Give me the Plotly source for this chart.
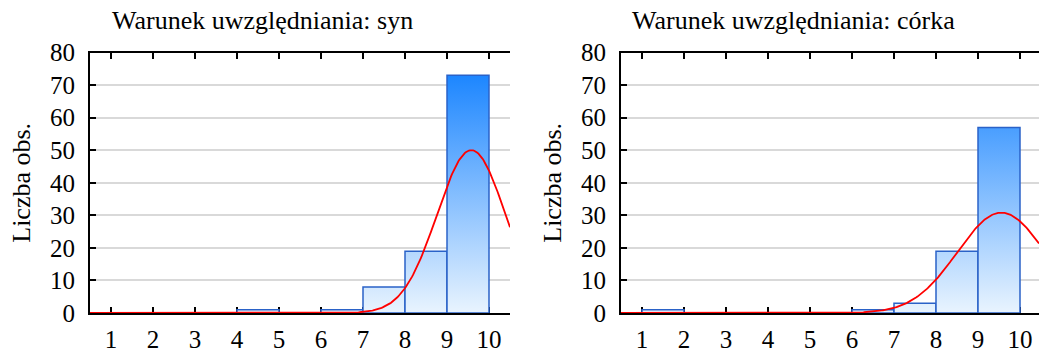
import math
import numpy as np
import plotly.graph_objects as go

# Histogram data: rating values 1..10 and observation counts for each group
values = [1, 2, 3, 4, 5, 6, 7, 8, 9, 10]
counts_syn = [0, 0, 0, 0, 1, 0, 1, 8, 19, 73]
counts_corka = [0, 1, 0, 0, 0, 0, 1, 3, 19, 57]
titles = ["Warunek uwzględniania: syn", "Warunek uwzględniania: córka"]
y_title = "Liczba obs."
y_ticks = [0, 10, 20, 30, 40, 50, 60, 70, 80]

W, H = 1039, 354
FONT = "Times New Roman, Liberation Serif, serif"
BAR_LINE = "#2a62c8"
LIGHT, DARK = "#e9f4fe", "#1783ff"

# plot-area geometry in pixels
panels = [
    dict(x0=90, x1=510, xr=[0.5, 10.5], sec_range=[0, 9], sec_line=True),
    dict(x0=621, x1=1039, xr=[0.5, 10.5 - 2 / 42.0], sec_range=[0, 7], sec_line=False),
]
Y_TOP, Y_BOT = 52.5, 313

fig = go.Figure()


def normal_fit(vals, cnts, xs):
    v = np.repeat(np.array(vals, float), cnts)
    n = len(v)
    m = v.mean()
    s = v.std(ddof=1)
    return n / (s * math.sqrt(2 * math.pi)) * np.exp(-0.5 * ((xs - m) / s) ** 2)


for i, (cnts, p) in enumerate(zip([counts_syn, counts_corka], panels)):
    k = i + 1
    xa = "x" if k == 1 else f"x{k}"
    ya = "y" if k == 1 else f"y{2 * k - 1}"
    # histogram bars (bar for value v spans v-1 .. v)
    for v, c in zip(values, cnts):
        if c <= 0:
            continue
        fig.add_trace(go.Scatter(
            x=[v - 1, v - 1, v, v, v - 1], y=[0, c, c, 0, 0],
            mode="lines", fill="toself",
            line=dict(color=BAR_LINE, width=1.5),
            fillgradient=dict(type="vertical", start=0, stop=75,
                              colorscale=[[0, LIGHT], [1, DARK]]),
            xaxis=xa, yaxis=ya, showlegend=False, hoverinfo="skip",
        ))
    # fitted normal curve
    xs = np.linspace(p["xr"][0], p["xr"][1], 400)
    fig.add_trace(go.Scatter(
        x=xs, y=normal_fit(values, cnts, xs), mode="lines",
        line=dict(color="#ff0000", width=1.8),
        xaxis=xa, yaxis=ya, showlegend=False, hoverinfo="skip",
    ))

    dom_x = [p["x0"] / W, p["x1"] / W]
    dom_y = [(H - Y_BOT) / H, (H - Y_TOP) / H]
    xname = "xaxis" if k == 1 else f"xaxis{k}"
    yname = "yaxis" if k == 1 else f"yaxis{2 * k - 1}"
    y2name = f"yaxis{2 * k}"
    fig.layout[xname] = dict(
        domain=dom_x, range=p["xr"], anchor=ya, automargin=False,
        tickmode="array", tickvals=values, ticktext=[str(v) for v in values],
        ticks="inside", ticklen=6, tickwidth=1.5, tickcolor="black",
        showline=True, linecolor="black", linewidth=2, mirror="ticks",
        showgrid=False, zeroline=False, layer="below traces",
        tickfont=dict(family=FONT, size=25, color="black"),
        ticklabelstandoff=3,
    )
    fig.layout[yname] = dict(
        domain=dom_y, range=[0, 80], anchor=xa, automargin=False,
        tickmode="array", tickvals=y_ticks,
        ticks="inside", ticklen=6, tickwidth=1.5, tickcolor="black",
        showline=True, linecolor="black", linewidth=2,
        showgrid=True, gridcolor="#d9d9d9", gridwidth=1.5,
        zeroline=False, layer="below traces",
        tickfont=dict(family=FONT, size=25, color="black"),
        ticklabelstandoff=8,
    )
    fig.layout[y2name] = dict(
        domain=dom_y, range=p["sec_range"], anchor=xa, overlaying=ya,
        side="right", dtick=1, showticklabels=False, automargin=False,
        ticks="inside", ticklen=6, tickwidth=1.5, tickcolor="black",
        showline=p["sec_line"], linecolor="black", linewidth=2,
        showgrid=False, zeroline=False,
    )
    # panel title and y-axis title
    fig.add_annotation(
        text=titles[i], xref="paper", yref="paper",
        x=((p["x0"] + (p["x0"] + 42 * 10)) / 2 - 38) / W, y=1 - 20 / H,
        xanchor="center", yanchor="middle", showarrow=False,
        font=dict(family=FONT, size=26, color="black"),
    )
    fig.add_annotation(
        text=y_title, xref="paper", yref="paper",
        x=(p["x0"] - 68) / W, y=(H - (Y_TOP + Y_BOT) / 2) / H,
        xanchor="center", yanchor="middle", textangle=-90, showarrow=False,
        font=dict(family=FONT, size=26, color="black"),
    )

fig.update_layout(
    width=W, height=H, margin=dict(l=0, r=0, t=0, b=0),
    paper_bgcolor="white", plot_bgcolor="white", showlegend=False,
)

fig.write_html("out.html")
